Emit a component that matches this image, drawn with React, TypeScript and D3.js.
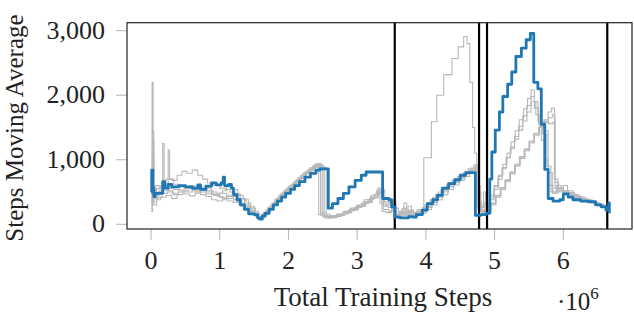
import * as React from "react";
import * as d3 from "d3";

// x values are in millions of training steps
const xTicks = [0, 1, 2, 3, 4, 5, 6];
const yTicks = [0, 1000, 2000, 3000];
const boundaries = [3.547, 4.774, 4.89, 6.64];

const mainRun: [number, number][] = [
  [0, 500], [0.01, 840], [0.025, 560], [0.04, 430], [0.06, 480], [0.17, 660], [0.2, 560], [0.25, 620],
  [0.3, 580], [0.4, 600], [0.5, 580], [0.6, 560], [0.68, 610], [0.72, 540], [0.8, 590], [0.88, 640],
  [0.95, 610], [1.02, 640], [1.05, 730], [1.07, 600], [1.13, 620], [1.17, 560], [1.2, 460], [1.25, 380],
  [1.3, 300], [1.36, 230], [1.42, 160], [1.5, 150], [1.55, 100], [1.58, 80], [1.62, 130], [1.66, 170],
  [1.72, 230], [1.78, 300], [1.84, 360], [1.9, 420], [1.96, 480], [2.03, 540], [2.09, 600], [2.16, 660],
  [2.24, 730], [2.32, 790], [2.4, 840], [2.46, 860], [2.58, 250], [2.64, 320], [2.72, 400], [2.8, 480],
  [2.88, 580], [2.97, 680], [3.06, 760], [3.13, 810], [3.37, 400], [3.46, 380], [3.5, 270], [3.55, 110],
  [3.62, 100], [3.75, 120], [3.8, 110], [3.86, 150], [3.95, 220], [4.02, 320], [4.1, 380], [4.17, 450],
  [4.24, 560], [4.33, 630], [4.42, 690], [4.5, 760], [4.58, 800], [4.72, 140], [4.8, 150], [4.88, 170],
  [4.93, 700], [4.96, 1120], [5.01, 1460], [5.07, 1740], [5.12, 1980], [5.19, 2170], [5.25, 2360],
  [5.31, 2600], [5.39, 2730], [5.46, 2860], [5.52, 2960], [5.57, 2200], [5.63, 2100], [5.68, 1550],
  [5.73, 850], [5.78, 400], [5.85, 360], [5.95, 380], [6.0, 470], [6.07, 420], [6.14, 380], [6.25, 360],
  [6.36, 350], [6.47, 300], [6.55, 270], [6.62, 220], [6.66, 330], [6.67, 170],
];

const otherRuns: [number, number][][] = [
  [
    [0, 300], [0.015, 2200], [0.03, 900], [0.045, 500], [0.07, 600], [0.12, 550], [0.18, 520], [0.25, 560],
    [0.33, 540], [0.42, 600], [0.5, 560], [0.6, 520], [0.7, 500], [0.8, 470], [0.9, 450], [1.0, 480],
    [1.1, 430], [1.2, 380], [1.3, 300], [1.38, 260], [1.45, 180], [1.52, 120], [1.58, 100],
    [1.62, 160], [1.68, 230], [1.74, 300], [1.8, 380], [1.86, 440], [1.92, 500], [1.98, 560], [2.05, 620],
    [2.12, 690], [2.19, 760], [2.26, 820], [2.33, 880], [2.4, 920], [2.44, 150], [2.5, 120], [2.6, 130],
    [2.7, 160], [2.8, 200], [2.9, 250], [3.0, 300], [3.1, 380], [3.2, 450], [3.28, 520], [3.33, 330],
    [3.42, 300], [3.5, 290], [3.55, 250],
    [3.6, 180], [3.65, 240], [3.7, 150], [3.76, 200], [3.82, 160], [3.88, 230], [3.95, 260], [4.02, 330],
    [4.1, 420], [4.18, 500], [4.26, 570], [4.34, 640], [4.42, 700], [4.5, 760], [4.58, 820], [4.66, 870],
    [4.74, 250], [4.8, 200], [4.86, 320], [4.9, 250],
    [4.94, 420], [5.0, 580], [5.06, 760], [5.12, 930], [5.18, 1100], [5.24, 1280], [5.3, 1450], [5.36, 1620],
    [5.42, 1790], [5.48, 1950], [5.53, 2080], [5.58, 1900], [5.63, 1600], [5.68, 1300], [5.73, 1000],
    [5.78, 600], [5.85, 500], [5.92, 560], [6.0, 500], [6.08, 470], [6.15, 420], [6.25, 380], [6.35, 350],
    [6.45, 320], [6.55, 290], [6.63, 260],
  ],
  [
    [0, 200], [0.02, 1450], [0.04, 600], [0.06, 400], [0.1, 500], [0.16, 620], [0.22, 700], [0.3, 680],
    [0.38, 760], [0.45, 820], [0.52, 790], [0.6, 840], [0.68, 760], [0.75, 700], [0.82, 640], [0.9, 600],
    [1.0, 560], [1.08, 540], [1.15, 500], [1.22, 470], [1.3, 400], [1.38, 330], [1.45, 250], [1.52, 170],
    [1.58, 110],
    [1.6, 120], [1.64, 190], [1.7, 260], [1.76, 330], [1.82, 400], [1.88, 470], [1.94, 530], [2.0, 590],
    [2.07, 650], [2.14, 720], [2.21, 790], [2.28, 840], [2.35, 900], [2.42, 940], [2.47, 180], [2.52, 100],
    [2.6, 110], [2.7, 140], [2.8, 180], [2.9, 220], [3.0, 280], [3.1, 340], [3.2, 420], [3.3, 500],
    [3.38, 280], [3.45, 260], [3.52, 300],
    [3.56, 150], [3.62, 200], [3.68, 330], [3.72, 180], [3.8, 150], [3.86, 200], [3.92, 230], [3.98, 300],
    [4.06, 380], [4.14, 460], [4.22, 540], [4.3, 610], [4.38, 680], [4.46, 740], [4.54, 800], [4.62, 860],
    [4.7, 920], [4.76, 300], [4.82, 180], [4.88, 250],
    [4.93, 380], [4.99, 540], [5.05, 700], [5.11, 860], [5.17, 1030], [5.23, 1200], [5.29, 1360],
    [5.35, 1520], [5.41, 1680], [5.47, 1840], [5.53, 1980], [5.58, 1800], [5.64, 1550], [5.7, 1400],
    [5.76, 900], [5.82, 500], [5.9, 600], [5.97, 520], [6.05, 470], [6.12, 440], [6.2, 400], [6.3, 370],
    [6.4, 330], [6.5, 300], [6.6, 270],
  ],
  [
    [0, 250], [0.02, 900], [0.04, 350], [0.08, 450], [0.12, 520], [0.17, 1250], [0.19, 600], [0.25, 520],
    [0.32, 480], [0.4, 530], [0.5, 500], [0.6, 540], [0.7, 580], [0.8, 520], [0.9, 460], [1.0, 420],
    [1.1, 400], [1.18, 430], [1.25, 360], [1.32, 280], [1.4, 220], [1.48, 160], [1.55, 110],
    [1.6, 100], [1.66, 170], [1.72, 240], [1.78, 310], [1.84, 380], [1.9, 450], [1.96, 510], [2.02, 570],
    [2.09, 640], [2.16, 710], [2.23, 780], [2.3, 830], [2.37, 880], [2.45, 920], [2.5, 130], [2.58, 100],
    [2.68, 130], [2.78, 170], [2.88, 220], [2.98, 270], [3.08, 330], [3.18, 400], [3.26, 470], [3.32, 540],
    [3.4, 350], [3.48, 320], [3.53, 280],
    [3.57, 120], [3.63, 180], [3.69, 140], [3.75, 220], [3.82, 180], [3.9, 200], [3.97, 1030], [4.08, 1590],
    [4.16, 2000], [4.26, 2320], [4.38, 2570], [4.47, 2750], [4.55, 2910], [4.6, 2800], [4.64, 2200],
    [4.68, 1500], [4.71, 1100], [4.74, 900], [4.77, 500], [4.8, 200], [4.86, 350], [4.9, 220],
    [4.95, 300], [5.02, 420], [5.09, 540], [5.16, 660], [5.23, 780], [5.3, 900], [5.37, 1020], [5.44, 1140],
    [5.51, 1260], [5.58, 1380], [5.65, 1500], [5.72, 1620], [5.78, 1740], [5.83, 1800], [5.87, 700],
    [5.92, 550], [6.0, 600], [6.06, 520], [6.14, 460], [6.22, 420], [6.32, 380], [6.42, 340], [6.52, 300],
    [6.6, 260],
  ],
  [
    [0, 400], [0.02, 1100], [0.04, 300], [0.08, 380], [0.14, 420], [0.22, 450], [0.3, 400], [0.38, 460],
    [0.46, 520], [0.55, 560], [0.64, 500], [0.72, 460], [0.8, 430], [0.88, 380], [0.96, 360], [1.04, 400],
    [1.12, 450], [1.2, 480], [1.28, 400], [1.36, 300], [1.44, 200], [1.52, 140], [1.58, 90],
    [1.62, 130], [1.68, 200], [1.74, 270], [1.8, 340], [1.86, 410], [1.92, 480], [1.98, 540], [2.04, 600],
    [2.11, 670], [2.18, 740], [2.25, 800], [2.32, 860], [2.39, 900], [2.48, 900], [2.52, 160], [2.6, 130],
    [2.7, 150], [2.8, 190], [2.9, 240], [3.0, 290], [3.1, 350], [3.2, 420], [3.3, 560], [3.36, 200],
    [3.42, 180], [3.5, 330],
    [3.56, 130], [3.64, 160], [3.7, 200], [3.78, 150], [3.85, 180], [3.92, 170], [4.0, 230], [4.08, 300],
    [4.16, 380], [4.24, 460], [4.32, 540], [4.4, 610], [4.48, 680], [4.56, 740], [4.64, 800], [4.72, 850],
    [4.76, 200], [4.82, 150], [4.88, 200],
    [4.94, 320], [5.01, 440], [5.08, 560], [5.15, 680], [5.22, 800], [5.29, 920], [5.36, 1040], [5.43, 1160],
    [5.5, 1280], [5.57, 1400], [5.64, 1500], [5.71, 1580], [5.78, 1650], [5.84, 1700], [5.88, 550],
    [5.94, 500], [6.02, 480], [6.1, 450], [6.18, 430], [6.28, 390], [6.38, 350], [6.48, 310], [6.58, 280],
    [6.64, 240],
  ],
  [
    [0, 200], [0.02, 1300], [0.04, 500], [0.08, 550], [0.14, 600], [0.2, 580], [0.25, 1150], [0.27, 700],
    [0.33, 620], [0.4, 580], [0.48, 560], [0.56, 600], [0.64, 560], [0.72, 540], [0.8, 500], [0.88, 470],
    [0.96, 430], [1.04, 380], [1.12, 360], [1.2, 340], [1.28, 320], [1.36, 260], [1.44, 200], [1.52, 130],
    [1.58, 100],
    [1.61, 140], [1.67, 210], [1.73, 280], [1.79, 350], [1.85, 420], [1.91, 490], [1.97, 550], [2.03, 610],
    [2.1, 680], [2.17, 750], [2.24, 810], [2.31, 870], [2.38, 930], [2.46, 880], [2.55, 120], [2.62, 110],
    [2.72, 140], [2.82, 180], [2.92, 230], [3.02, 280], [3.12, 340], [3.22, 410], [3.3, 480], [3.38, 230],
    [3.46, 200], [3.52, 380],
    [3.56, 160], [3.62, 130], [3.67, 250], [3.72, 140], [3.8, 130], [3.88, 170], [3.94, 190], [4.01, 260],
    [4.09, 340], [4.17, 420], [4.25, 500], [4.33, 580], [4.41, 650], [4.49, 710], [4.57, 780], [4.65, 830],
    [4.72, 880], [4.76, 350], [4.81, 260], [4.84, 500], [4.87, 200],
    [4.93, 450], [4.99, 600], [5.05, 740], [5.11, 880], [5.17, 1030], [5.23, 1170], [5.29, 1320],
    [5.35, 1460], [5.41, 1600], [5.47, 1740], [5.53, 1900], [5.6, 1700], [5.66, 1500], [5.72, 1450],
    [5.78, 800], [5.84, 480], [5.92, 520], [6.0, 460], [6.08, 430], [6.16, 400], [6.26, 360], [6.36, 330],
    [6.46, 300], [6.56, 270], [6.63, 240],
  ],
  [
    [0, 350], [0.02, 600], [0.05, 400], [0.1, 420], [0.16, 480], [0.24, 500], [0.32, 460], [0.4, 500],
    [0.48, 470], [0.56, 440], [0.64, 480], [0.72, 520], [0.8, 560], [0.88, 500], [0.96, 480], [1.04, 520],
    [1.1, 580], [1.18, 540], [1.26, 450], [1.34, 380], [1.42, 280], [1.5, 200], [1.56, 120],
    [1.6, 110], [1.65, 180], [1.71, 250], [1.77, 320], [1.83, 390], [1.89, 460], [1.95, 520], [2.01, 580],
    [2.08, 650], [2.15, 720], [2.22, 790], [2.29, 850], [2.36, 900], [2.43, 870], [2.47, 140], [2.56, 110],
    [2.66, 120], [2.76, 160], [2.86, 210], [2.96, 260], [3.06, 320], [3.16, 380], [3.24, 450], [3.32, 500],
    [3.38, 300], [3.45, 340], [3.52, 360],
    [3.56, 140], [3.62, 170], [3.68, 150], [3.74, 280], [3.79, 160], [3.86, 140], [3.93, 210], [4.0, 280],
    [4.08, 360], [4.16, 440], [4.24, 520], [4.32, 590], [4.4, 660], [4.48, 720], [4.56, 780], [4.64, 840],
    [4.72, 900], [4.75, 600], [4.79, 220], [4.85, 180],
    [4.95, 330], [5.02, 450], [5.09, 570], [5.16, 690], [5.23, 810], [5.3, 930], [5.37, 1050], [5.44, 1170],
    [5.51, 1290], [5.58, 1410], [5.65, 1520], [5.72, 1600], [5.78, 1560], [5.85, 1580], [5.88, 650],
    [5.93, 560], [6.0, 520], [6.08, 490], [6.16, 440], [6.24, 400], [6.34, 360], [6.44, 320], [6.54, 290],
    [6.62, 250],
  ],
];

const W = 634;
const H = 316;
const font = "'Liberation Serif', 'DejaVu Serif', serif";

export default function App() {
  const x = d3.scaleLinear().domain([-0.35, 7.0]).range([127, 632]);
  const y = d3.scaleLinear().domain([-73, 3124]).range([229, 22.7]);

  const line = d3
    .line<[number, number]>()
    .x((d) => x(d[0]))
    .y((d) => y(d[1]))
    .curve(d3.curveStepAfter);

  const [x0, x1] = x.range();
  const [yb, yt] = y.range();
  const fmt = d3.format(",");

  return (
    <svg width={W} height={H} style={{ position: "absolute", left: 0, top: 0, background: "#fff" }}>
      {/* ticks */}
      {xTicks.map((t) => (
        <line key={"xt" + t} x1={x(t)} x2={x(t)} y1={yb} y2={yb + 11} stroke="#b4b4b4" strokeWidth={1} />
      ))}
      {yTicks.map((t) => (
        <line key={"yt" + t} x1={x0 - 11} x2={x0} y1={y(t)} y2={y(t)} stroke="#b4b4b4" strokeWidth={1} />
      ))}

      {otherRuns.map((run, i) => (
        <path key={"g" + i} d={line(run) || ""} fill="none" stroke="#b8b8b8" strokeWidth={1.1} />
      ))}

      {boundaries.map((b) => (
        <line key={"b" + b} x1={x(b)} x2={x(b)} y1={yt} y2={yb} stroke="#000" strokeWidth={2.2} />
      ))}

      <path d={line(mainRun) || ""} fill="none" stroke="#1f77b4" strokeWidth={2.8} strokeLinejoin="round" />

      <rect x={x0} y={yt} width={x1 - x0} height={yb - yt} fill="none" stroke="#222" strokeWidth={1.2} />

      {/* tick labels */}
      {xTicks.map((t) => (
        <text key={"xl" + t} x={x(t)} y={269} textAnchor="middle" fontFamily={font} fontSize={26} fill="#222">
          {t}
        </text>
      ))}
      {yTicks.map((t) => (
        <text key={"yl" + t} x={105} y={y(t) + 8} textAnchor="end" fontFamily={font} fontSize={26} fill="#222">
          {fmt(t)}
        </text>
      ))}

      <text x={383} y={306} textAnchor="middle" fontFamily={font} fontSize={27} fill="#222">
        Total Training Steps
      </text>
      <text x={557} y={310} fontFamily={font} fontSize={25} fill="#222">
        ·10<tspan dy={-11} fontSize={17}>6</tspan>
      </text>
      <text
        transform="translate(23,128) rotate(-90)"
        textAnchor="middle"
        fontFamily={font}
        fontSize={25}
        fill="#222"
      >
        Steps Moving Average
      </text>
    </svg>
  );
}
